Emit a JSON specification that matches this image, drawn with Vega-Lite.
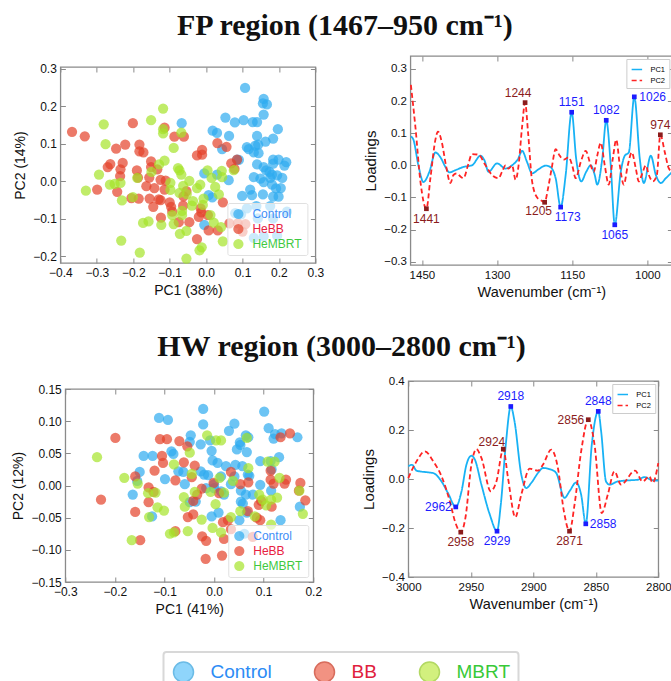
{
  "$schema": "https://vega.github.io/schema/vega-lite/v6.json",
  "background": "white",
  "padding": {"left": 11, "right": 0, "top": 10, "bottom": 0},
  "config": {
    "font": "Liberation Sans",
    "view": {"stroke": "#8a8a8a", "strokeWidth": 1.3},
    "axis": {"domain": false, "grid": false, "ticks": true, "tickSize": -5, "tickColor": "#8a8a8a", "labelFontSize": 12, "titleFontSize": 14, "titleFontWeight": "normal", "labelColor": "#111", "titleColor": "#111", "labelPadding": 9, "titlePadding": 5, "labelFlush": false, "labelOverlap": false},
    "title": {"font": "Liberation Serif", "fontSize": 30, "fontWeight": "bold", "anchor": "middle", "color": "#111", "offset": 12},
    "legend": {"labelOverlap": false}
  },
  "datasets": {
    "fp_scores": [
      {"pc1": 0.107, "pc2": 0.249, "group": "Control"}, {"pc1": 0.158, "pc2": 0.220, "group": "Control"}, {"pc1": 0.156, "pc2": 0.208, "group": "Control"}, {"pc1": 0.167, "pc2": 0.205, "group": "Control"}, {"pc1": 0.158, "pc2": 0.178, "group": "Control"}, {"pc1": 0.053, "pc2": 0.170, "group": "Control"}, {"pc1": 0.079, "pc2": 0.157, "group": "Control"}, {"pc1": 0.103, "pc2": 0.163, "group": "Control"}, {"pc1": 0.128, "pc2": 0.158, "group": "Control"}, {"pc1": 0.140, "pc2": 0.158, "group": "Control"}, {"pc1": 0.197, "pc2": 0.139, "group": "Control"}, {"pc1": -0.067, "pc2": 0.155, "group": "Control"}, {"pc1": 0.018, "pc2": 0.135, "group": "Control"}, {"pc1": 0.030, "pc2": 0.129, "group": "Control"}, {"pc1": 0.063, "pc2": 0.121, "group": "Control"}, {"pc1": 0.044, "pc2": 0.086, "group": "Control"}, {"pc1": 0.140, "pc2": 0.121, "group": "Control"}, {"pc1": 0.184, "pc2": 0.114, "group": "Control"}, {"pc1": 0.163, "pc2": 0.106, "group": "Control"}, {"pc1": 0.112, "pc2": 0.091, "group": "Control"}, {"pc1": 0.117, "pc2": 0.086, "group": "Control"}, {"pc1": 0.135, "pc2": 0.095, "group": "Control"}, {"pc1": 0.143, "pc2": 0.098, "group": "Control"}, {"pc1": 0.131, "pc2": 0.077, "group": "Control"}, {"pc1": 0.144, "pc2": 0.075, "group": "Control"}, {"pc1": 0.184, "pc2": 0.058, "group": "Control"}, {"pc1": 0.199, "pc2": 0.058, "group": "Control"}, {"pc1": 0.220, "pc2": 0.051, "group": "Control"}, {"pc1": 0.215, "pc2": 0.042, "group": "Control"}, {"pc1": 0.184, "pc2": 0.047, "group": "Control"}, {"pc1": 0.085, "pc2": 0.058, "group": "Control"}, {"pc1": 0.140, "pc2": 0.045, "group": "Control"}, {"pc1": 0.158, "pc2": 0.038, "group": "Control"}, {"pc1": 0.165, "pc2": 0.029, "group": "Control"}, {"pc1": 0.174, "pc2": 0.025, "group": "Control"}, {"pc1": 0.181, "pc2": 0.018, "group": "Control"}, {"pc1": 0.195, "pc2": 0.016, "group": "Control"}, {"pc1": 0.209, "pc2": 0.009, "group": "Control"}, {"pc1": 0.176, "pc2": 0.009, "group": "Control"}, {"pc1": 0.149, "pc2": 0.007, "group": "Control"}, {"pc1": 0.131, "pc2": 0.011, "group": "Control"}, {"pc1": 0.158, "pc2": -0.002, "group": "Control"}, {"pc1": 0.181, "pc2": -0.009, "group": "Control"}, {"pc1": 0.205, "pc2": -0.018, "group": "Control"}, {"pc1": 0.192, "pc2": -0.019, "group": "Control"}, {"pc1": 0.121, "pc2": -0.022, "group": "Control"}, {"pc1": 0.099, "pc2": -0.039, "group": "Control"}, {"pc1": 0.126, "pc2": -0.037, "group": "Control"}, {"pc1": 0.156, "pc2": -0.035, "group": "Control"}, {"pc1": 0.184, "pc2": -0.041, "group": "Control"}, {"pc1": 0.199, "pc2": -0.041, "group": "Control"}, {"pc1": 0.176, "pc2": -0.066, "group": "Control"}, {"pc1": 0.138, "pc2": -0.066, "group": "Control"}, {"pc1": -0.005, "pc2": 0.021, "group": "Control"}, {"pc1": 0.030, "pc2": 0.018, "group": "Control"}, {"pc1": 0.062, "pc2": 0.003, "group": "Control"}, {"pc1": 0.007, "pc2": -0.037, "group": "Control"}, {"pc1": 0.017, "pc2": -0.043, "group": "Control"}, {"pc1": -0.005, "pc2": -0.116, "group": "Control"}, {"pc1": 0.080, "pc2": -0.085, "group": "Control"}, {"pc1": 0.096, "pc2": -0.088, "group": "Control"}, {"pc1": 0.112, "pc2": -0.072, "group": "Control"}, {"pc1": 0.222, "pc2": -0.081, "group": "Control"}, {"pc1": 0.184, "pc2": -0.099, "group": "Control"}, {"pc1": 0.142, "pc2": -0.099, "group": "Control"}, {"pc1": 0.195, "pc2": -0.145, "group": "Control"}, {"pc1": 0.158, "pc2": -0.147, "group": "Control"}, {"pc1": 0.131, "pc2": -0.151, "group": "Control"}, {"pc1": 0.090, "pc2": 0.057, "group": "Control"},
      {"pc1": -0.368, "pc2": 0.132, "group": "HeBB"}, {"pc1": -0.333, "pc2": 0.120, "group": "HeBB"}, {"pc1": -0.201, "pc2": 0.155, "group": "HeBB"}, {"pc1": -0.114, "pc2": 0.143, "group": "HeBB"}, {"pc1": -0.087, "pc2": 0.119, "group": "HeBB"}, {"pc1": -0.222, "pc2": 0.098, "group": "HeBB"}, {"pc1": -0.247, "pc2": 0.087, "group": "HeBB"}, {"pc1": -0.183, "pc2": 0.098, "group": "HeBB"}, {"pc1": -0.183, "pc2": 0.080, "group": "HeBB"}, {"pc1": -0.172, "pc2": 0.077, "group": "HeBB"}, {"pc1": -0.229, "pc2": 0.049, "group": "HeBB"}, {"pc1": -0.270, "pc2": 0.038, "group": "HeBB"}, {"pc1": -0.263, "pc2": 0.046, "group": "HeBB"}, {"pc1": -0.190, "pc2": 0.029, "group": "HeBB"}, {"pc1": -0.235, "pc2": 0.032, "group": "HeBB"}, {"pc1": -0.151, "pc2": 0.053, "group": "HeBB"}, {"pc1": -0.151, "pc2": 0.038, "group": "HeBB"}, {"pc1": -0.134, "pc2": 0.032, "group": "HeBB"}, {"pc1": -0.156, "pc2": 0.010, "group": "HeBB"}, {"pc1": -0.187, "pc2": 0.010, "group": "HeBB"}, {"pc1": -0.236, "pc2": 0.014, "group": "HeBB"}, {"pc1": -0.299, "pc2": -0.022, "group": "HeBB"}, {"pc1": -0.244, "pc2": -0.028, "group": "HeBB"}, {"pc1": -0.164, "pc2": -0.013, "group": "HeBB"}, {"pc1": -0.142, "pc2": -0.018, "group": "HeBB"}, {"pc1": -0.125, "pc2": 0.004, "group": "HeBB"}, {"pc1": -0.111, "pc2": 0.002, "group": "HeBB"}, {"pc1": -0.114, "pc2": -0.022, "group": "HeBB"}, {"pc1": -0.185, "pc2": -0.046, "group": "HeBB"}, {"pc1": -0.145, "pc2": -0.068, "group": "HeBB"}, {"pc1": -0.155, "pc2": -0.046, "group": "HeBB"}, {"pc1": -0.130, "pc2": -0.048, "group": "HeBB"}, {"pc1": -0.100, "pc2": -0.056, "group": "HeBB"}, {"pc1": -0.096, "pc2": -0.068, "group": "HeBB"}, {"pc1": -0.093, "pc2": -0.081, "group": "HeBB"}, {"pc1": -0.124, "pc2": -0.097, "group": "HeBB"}, {"pc1": -0.075, "pc2": -0.109, "group": "HeBB"}, {"pc1": -0.046, "pc2": -0.109, "group": "HeBB"}, {"pc1": -0.025, "pc2": -0.154, "group": "HeBB"}, {"pc1": 0.007, "pc2": -0.131, "group": "HeBB"}, {"pc1": 0.032, "pc2": -0.131, "group": "HeBB"}, {"pc1": -0.013, "pc2": -0.083, "group": "HeBB"}, {"pc1": -0.015, "pc2": -0.072, "group": "HeBB"}, {"pc1": 0.046, "pc2": -0.056, "group": "HeBB"}, {"pc1": -0.062, "pc2": -0.040, "group": "HeBB"}, {"pc1": -0.054, "pc2": -0.026, "group": "HeBB"}, {"pc1": -0.063, "pc2": -0.065, "group": "HeBB"}, {"pc1": 0.031, "pc2": 0.102, "group": "HeBB"}, {"pc1": 0.056, "pc2": 0.092, "group": "HeBB"}, {"pc1": -0.011, "pc2": 0.084, "group": "HeBB"}, {"pc1": -0.025, "pc2": 0.069, "group": "HeBB"}, {"pc1": -0.011, "pc2": 0.071, "group": "HeBB"}, {"pc1": -0.061, "pc2": 0.119, "group": "HeBB"}, {"pc1": 0.069, "pc2": 0.048, "group": "HeBB"}, {"pc1": 0.078, "pc2": 0.033, "group": "HeBB"}, {"pc1": 0.085, "pc2": 0.058, "group": "HeBB"}, {"pc1": 0.064, "pc2": -0.112, "group": "HeBB"}, {"pc1": 0.087, "pc2": -0.112, "group": "HeBB"}, {"pc1": 0.108, "pc2": -0.114, "group": "HeBB"}, {"pc1": 0.100, "pc2": -0.134, "group": "HeBB"}, {"pc1": -0.205, "pc2": -0.045, "group": "HeBB"}, {"pc1": -0.125, "pc2": -0.050, "group": "HeBB"}, {"pc1": -0.020, "pc2": -0.095, "group": "HeBB"}, {"pc1": 0.005, "pc2": -0.090, "group": "HeBB"},
      {"pc1": -0.281, "pc2": 0.152, "group": "HeMBRT"}, {"pc1": -0.118, "pc2": 0.194, "group": "HeMBRT"}, {"pc1": -0.151, "pc2": 0.163, "group": "HeMBRT"}, {"pc1": -0.118, "pc2": 0.139, "group": "HeMBRT"}, {"pc1": -0.118, "pc2": 0.128, "group": "HeMBRT"}, {"pc1": -0.068, "pc2": 0.130, "group": "HeMBRT"}, {"pc1": -0.276, "pc2": 0.099, "group": "HeMBRT"}, {"pc1": -0.089, "pc2": 0.089, "group": "HeMBRT"}, {"pc1": -0.294, "pc2": 0.018, "group": "HeMBRT"}, {"pc1": -0.264, "pc2": -0.009, "group": "HeMBRT"}, {"pc1": -0.251, "pc2": -0.007, "group": "HeMBRT"}, {"pc1": -0.235, "pc2": -0.004, "group": "HeMBRT"}, {"pc1": -0.330, "pc2": -0.025, "group": "HeMBRT"}, {"pc1": -0.231, "pc2": -0.051, "group": "HeMBRT"}, {"pc1": -0.201, "pc2": -0.042, "group": "HeMBRT"}, {"pc1": -0.189, "pc2": 0.009, "group": "HeMBRT"}, {"pc1": -0.129, "pc2": 0.045, "group": "HeMBRT"}, {"pc1": -0.114, "pc2": 0.055, "group": "HeMBRT"}, {"pc1": -0.077, "pc2": 0.035, "group": "HeMBRT"}, {"pc1": -0.073, "pc2": 0.029, "group": "HeMBRT"}, {"pc1": -0.068, "pc2": 0.018, "group": "HeMBRT"}, {"pc1": -0.098, "pc2": -0.004, "group": "HeMBRT"}, {"pc1": -0.098, "pc2": -0.023, "group": "HeMBRT"}, {"pc1": -0.046, "pc2": 0.001, "group": "HeMBRT"}, {"pc1": -0.063, "pc2": -0.012, "group": "HeMBRT"}, {"pc1": -0.073, "pc2": -0.031, "group": "HeMBRT"}, {"pc1": -0.053, "pc2": -0.034, "group": "HeMBRT"}, {"pc1": -0.025, "pc2": -0.018, "group": "HeMBRT"}, {"pc1": -0.016, "pc2": -0.009, "group": "HeMBRT"}, {"pc1": 0.004, "pc2": 0.029, "group": "HeMBRT"}, {"pc1": 0.043, "pc2": 0.028, "group": "HeMBRT"}, {"pc1": 0.076, "pc2": 0.030, "group": "HeMBRT"}, {"pc1": 0.015, "pc2": 0.009, "group": "HeMBRT"}, {"pc1": 0.044, "pc2": 0.011, "group": "HeMBRT"}, {"pc1": 0.025, "pc2": -0.015, "group": "HeMBRT"}, {"pc1": 0.035, "pc2": -0.035, "group": "HeMBRT"}, {"pc1": -0.009, "pc2": -0.063, "group": "HeMBRT"}, {"pc1": -0.036, "pc2": -0.053, "group": "HeMBRT"}, {"pc1": -0.039, "pc2": -0.065, "group": "HeMBRT"}, {"pc1": -0.066, "pc2": -0.079, "group": "HeMBRT"}, {"pc1": -0.066, "pc2": -0.090, "group": "HeMBRT"}, {"pc1": -0.093, "pc2": -0.090, "group": "HeMBRT"}, {"pc1": -0.089, "pc2": -0.114, "group": "HeMBRT"}, {"pc1": -0.123, "pc2": -0.116, "group": "HeMBRT"}, {"pc1": -0.158, "pc2": -0.107, "group": "HeMBRT"}, {"pc1": -0.173, "pc2": -0.111, "group": "HeMBRT"}, {"pc1": -0.233, "pc2": -0.158, "group": "HeMBRT"}, {"pc1": -0.182, "pc2": -0.190, "group": "HeMBRT"}, {"pc1": -0.072, "pc2": -0.140, "group": "HeMBRT"}, {"pc1": -0.054, "pc2": -0.132, "group": "HeMBRT"}, {"pc1": -0.054, "pc2": -0.206, "group": "HeMBRT"}, {"pc1": -0.018, "pc2": -0.184, "group": "HeMBRT"}, {"pc1": -0.012, "pc2": -0.176, "group": "HeMBRT"}, {"pc1": 0.012, "pc2": -0.090, "group": "HeMBRT"}, {"pc1": 0.021, "pc2": -0.110, "group": "HeMBRT"}, {"pc1": 0.041, "pc2": -0.122, "group": "HeMBRT"}, {"pc1": 0.046, "pc2": -0.160, "group": "HeMBRT"}, {"pc1": -0.007, "pc2": -0.046, "group": "HeMBRT"}, {"pc1": -0.150, "pc2": 0.025, "group": "HeMBRT"}
    ],
    "hw_scores": [
      {"pc1": -0.111, "pc2": 0.105, "group": "Control"}, {"pc1": -0.093, "pc2": 0.102, "group": "Control"}, {"pc1": -0.022, "pc2": 0.119, "group": "Control"}, {"pc1": -0.022, "pc2": 0.095, "group": "Control"}, {"pc1": 0.101, "pc2": 0.115, "group": "Control"}, {"pc1": 0.041, "pc2": 0.096, "group": "Control"}, {"pc1": 0.030, "pc2": 0.085, "group": "Control"}, {"pc1": 0.110, "pc2": 0.089, "group": "Control"}, {"pc1": 0.123, "pc2": 0.080, "group": "Control"}, {"pc1": 0.136, "pc2": 0.081, "group": "Control"}, {"pc1": 0.120, "pc2": 0.073, "group": "Control"}, {"pc1": 0.168, "pc2": 0.075, "group": "Control"}, {"pc1": 0.064, "pc2": 0.078, "group": "Control"}, {"pc1": 0.069, "pc2": 0.075, "group": "Control"}, {"pc1": 0.052, "pc2": 0.067, "group": "Control"}, {"pc1": 0.053, "pc2": 0.063, "group": "Control"}, {"pc1": 0.066, "pc2": 0.052, "group": "Control"}, {"pc1": 0.046, "pc2": 0.056, "group": "Control"}, {"pc1": -0.047, "pc2": 0.078, "group": "Control"}, {"pc1": -0.049, "pc2": 0.068, "group": "Control"}, {"pc1": -0.027, "pc2": 0.064, "group": "Control"}, {"pc1": -0.008, "pc2": 0.070, "group": "Control"}, {"pc1": -0.005, "pc2": 0.054, "group": "Control"}, {"pc1": -0.003, "pc2": 0.039, "group": "Control"}, {"pc1": 0.007, "pc2": 0.035, "group": "Control"}, {"pc1": -0.086, "pc2": 0.053, "group": "Control"}, {"pc1": -0.082, "pc2": 0.049, "group": "Control"}, {"pc1": -0.142, "pc2": 0.046, "group": "Control"}, {"pc1": -0.124, "pc2": 0.046, "group": "Control"}, {"pc1": -0.150, "pc2": 0.021, "group": "Control"}, {"pc1": -0.155, "pc2": 0.007, "group": "Control"}, {"pc1": -0.164, "pc2": -0.014, "group": "Control"}, {"pc1": -0.099, "pc2": 0.010, "group": "Control"}, {"pc1": -0.072, "pc2": 0.022, "group": "Control"}, {"pc1": -0.062, "pc2": 0.021, "group": "Control"}, {"pc1": -0.059, "pc2": 0.002, "group": "Control"}, {"pc1": -0.027, "pc2": 0.022, "group": "Control"}, {"pc1": -0.020, "pc2": 0.017, "group": "Control"}, {"pc1": -0.012, "pc2": 0.016, "group": "Control"}, {"pc1": -0.016, "pc2": -0.004, "group": "Control"}, {"pc1": 0.000, "pc2": 0.002, "group": "Control"}, {"pc1": 0.000, "pc2": -0.004, "group": "Control"}, {"pc1": 0.014, "pc2": 0.014, "group": "Control"}, {"pc1": 0.024, "pc2": 0.030, "group": "Control"}, {"pc1": 0.043, "pc2": 0.032, "group": "Control"}, {"pc1": 0.057, "pc2": 0.030, "group": "Control"}, {"pc1": 0.068, "pc2": 0.017, "group": "Control"}, {"pc1": 0.071, "pc2": 0.015, "group": "Control"}, {"pc1": 0.041, "pc2": 0.014, "group": "Control"}, {"pc1": 0.034, "pc2": 0.002, "group": "Control"}, {"pc1": 0.014, "pc2": -0.009, "group": "Control"}, {"pc1": 0.020, "pc2": -0.014, "group": "Control"}, {"pc1": 0.054, "pc2": -0.008, "group": "Control"}, {"pc1": 0.064, "pc2": -0.014, "group": "Control"}, {"pc1": 0.078, "pc2": -0.014, "group": "Control"}, {"pc1": 0.093, "pc2": 0.001, "group": "Control"}, {"pc1": 0.093, "pc2": 0.038, "group": "Control"}, {"pc1": 0.114, "pc2": 0.038, "group": "Control"}, {"pc1": 0.116, "pc2": 0.025, "group": "Control"}, {"pc1": 0.131, "pc2": 0.044, "group": "Control"}, {"pc1": 0.115, "pc2": -0.008, "group": "Control"}, {"pc1": 0.134, "pc2": -0.054, "group": "Control"}, {"pc1": 0.173, "pc2": -0.033, "group": "Control"}, {"pc1": 0.054, "pc2": -0.025, "group": "Control"}, {"pc1": 0.058, "pc2": -0.028, "group": "Control"}, {"pc1": 0.066, "pc2": -0.042, "group": "Control"}, {"pc1": 0.051, "pc2": -0.054, "group": "Control"}, {"pc1": -0.037, "pc2": -0.025, "group": "Control"}, {"pc1": -0.049, "pc2": -0.026, "group": "Control"}, {"pc1": -0.005, "pc2": -0.048, "group": "Control"}, {"pc1": 0.009, "pc2": -0.042, "group": "Control"}, {"pc1": -0.125, "pc2": -0.048, "group": "Control"}, {"pc1": 0.061, "pc2": -0.075, "group": "Control"},
      {"pc1": -0.199, "pc2": 0.074, "group": "HeBB"}, {"pc1": -0.228, "pc2": -0.022, "group": "HeBB"}, {"pc1": -0.109, "pc2": 0.072, "group": "HeBB"}, {"pc1": -0.095, "pc2": 0.072, "group": "HeBB"}, {"pc1": -0.105, "pc2": 0.046, "group": "HeBB"}, {"pc1": -0.103, "pc2": 0.035, "group": "HeBB"}, {"pc1": -0.070, "pc2": 0.069, "group": "HeBB"}, {"pc1": -0.054, "pc2": 0.061, "group": "HeBB"}, {"pc1": -0.039, "pc2": 0.031, "group": "HeBB"}, {"pc1": -0.061, "pc2": 0.036, "group": "HeBB"}, {"pc1": -0.078, "pc2": 0.008, "group": "HeBB"}, {"pc1": -0.120, "pc2": 0.023, "group": "HeBB"}, {"pc1": -0.159, "pc2": 0.014, "group": "HeBB"}, {"pc1": -0.132, "pc2": -0.003, "group": "HeBB"}, {"pc1": -0.122, "pc2": -0.010, "group": "HeBB"}, {"pc1": -0.132, "pc2": -0.026, "group": "HeBB"}, {"pc1": -0.159, "pc2": -0.041, "group": "HeBB"}, {"pc1": -0.149, "pc2": -0.085, "group": "HeBB"}, {"pc1": -0.078, "pc2": -0.071, "group": "HeBB"}, {"pc1": -0.053, "pc2": -0.049, "group": "HeBB"}, {"pc1": -0.042, "pc2": -0.045, "group": "HeBB"}, {"pc1": -0.042, "pc2": -0.024, "group": "HeBB"}, {"pc1": -0.045, "pc2": 0.013, "group": "HeBB"}, {"pc1": -0.025, "pc2": -0.005, "group": "HeBB"}, {"pc1": -0.034, "pc2": -0.014, "group": "HeBB"}, {"pc1": -0.024, "pc2": -0.079, "group": "HeBB"}, {"pc1": -0.016, "pc2": -0.086, "group": "HeBB"}, {"pc1": -0.017, "pc2": -0.114, "group": "HeBB"}, {"pc1": 0.016, "pc2": -0.109, "group": "HeBB"}, {"pc1": 0.020, "pc2": -0.083, "group": "HeBB"}, {"pc1": 0.018, "pc2": -0.057, "group": "HeBB"}, {"pc1": 0.028, "pc2": -0.054, "group": "HeBB"}, {"pc1": 0.034, "pc2": -0.068, "group": "HeBB"}, {"pc1": 0.034, "pc2": 0.021, "group": "HeBB"}, {"pc1": -0.001, "pc2": 0.004, "group": "HeBB"}, {"pc1": 0.053, "pc2": 0.002, "group": "HeBB"}, {"pc1": 0.069, "pc2": 0.005, "group": "HeBB"}, {"pc1": 0.068, "pc2": -0.040, "group": "HeBB"}, {"pc1": 0.086, "pc2": -0.050, "group": "HeBB"}, {"pc1": 0.093, "pc2": -0.054, "group": "HeBB"}, {"pc1": 0.095, "pc2": -0.024, "group": "HeBB"}, {"pc1": 0.114, "pc2": 0.023, "group": "HeBB"}, {"pc1": 0.120, "pc2": 0.003, "group": "HeBB"}, {"pc1": 0.114, "pc2": 0.009, "group": "HeBB"}, {"pc1": 0.145, "pc2": 0.009, "group": "HeBB"}, {"pc1": 0.142, "pc2": 0.003, "group": "HeBB"}, {"pc1": 0.134, "pc2": 0.075, "group": "HeBB"}, {"pc1": 0.153, "pc2": 0.081, "group": "HeBB"}, {"pc1": 0.174, "pc2": 0.004, "group": "HeBB"}, {"pc1": 0.184, "pc2": -0.023, "group": "HeBB"}, {"pc1": 0.171, "pc2": -0.008, "group": "HeBB"}, {"pc1": 0.116, "pc2": -0.033, "group": "HeBB"}, {"pc1": 0.078, "pc2": -0.080, "group": "HeBB"}, {"pc1": 0.010, "pc2": -0.012, "group": "HeBB"}, {"pc1": 0.090, "pc2": -0.030, "group": "HeBB"},
      {"pc1": -0.236, "pc2": 0.044, "group": "HeMBRT"}, {"pc1": -0.181, "pc2": 0.012, "group": "HeMBRT"}, {"pc1": -0.154, "pc2": 0.003, "group": "HeMBRT"}, {"pc1": -0.133, "pc2": -0.012, "group": "HeMBRT"}, {"pc1": -0.118, "pc2": -0.011, "group": "HeMBRT"}, {"pc1": -0.114, "pc2": -0.034, "group": "HeMBRT"}, {"pc1": -0.101, "pc2": -0.039, "group": "HeMBRT"}, {"pc1": -0.131, "pc2": -0.049, "group": "HeMBRT"}, {"pc1": -0.166, "pc2": -0.085, "group": "HeMBRT"}, {"pc1": -0.089, "pc2": -0.075, "group": "HeMBRT"}, {"pc1": -0.081, "pc2": -0.073, "group": "HeMBRT"}, {"pc1": -0.081, "pc2": 0.033, "group": "HeMBRT"}, {"pc1": -0.049, "pc2": 0.051, "group": "HeMBRT"}, {"pc1": -0.045, "pc2": 0.018, "group": "HeMBRT"}, {"pc1": -0.061, "pc2": -0.018, "group": "HeMBRT"}, {"pc1": -0.059, "pc2": -0.033, "group": "HeMBRT"}, {"pc1": -0.053, "pc2": -0.071, "group": "HeMBRT"}, {"pc1": -0.039, "pc2": -0.010, "group": "HeMBRT"}, {"pc1": -0.025, "pc2": -0.053, "group": "HeMBRT"}, {"pc1": -0.014, "pc2": 0.078, "group": "HeMBRT"}, {"pc1": 0.004, "pc2": 0.070, "group": "HeMBRT"}, {"pc1": 0.014, "pc2": 0.070, "group": "HeMBRT"}, {"pc1": 0.066, "pc2": 0.074, "group": "HeMBRT"}, {"pc1": -0.007, "pc2": -0.010, "group": "HeMBRT"}, {"pc1": 0.011, "pc2": 0.012, "group": "HeMBRT"}, {"pc1": 0.003, "pc2": -0.029, "group": "HeMBRT"}, {"pc1": -0.003, "pc2": -0.066, "group": "HeMBRT"}, {"pc1": 0.014, "pc2": -0.073, "group": "HeMBRT"}, {"pc1": 0.034, "pc2": -0.049, "group": "HeMBRT"}, {"pc1": 0.053, "pc2": -0.040, "group": "HeMBRT"}, {"pc1": 0.038, "pc2": 0.007, "group": "HeMBRT"}, {"pc1": 0.069, "pc2": 0.027, "group": "HeMBRT"}, {"pc1": 0.082, "pc2": -0.048, "group": "HeMBRT"}, {"pc1": 0.091, "pc2": -0.014, "group": "HeMBRT"}, {"pc1": 0.098, "pc2": -0.022, "group": "HeMBRT"}, {"pc1": 0.105, "pc2": -0.031, "group": "HeMBRT"}, {"pc1": 0.122, "pc2": 0.037, "group": "HeMBRT"}, {"pc1": 0.115, "pc2": -0.022, "group": "HeMBRT"}, {"pc1": 0.127, "pc2": -0.019, "group": "HeMBRT"}, {"pc1": 0.132, "pc2": 0.012, "group": "HeMBRT"}, {"pc1": 0.172, "pc2": -0.008, "group": "HeMBRT"}, {"pc1": 0.179, "pc2": -0.044, "group": "HeMBRT"}, {"pc1": 0.115, "pc2": -0.061, "group": "HeMBRT"}, {"pc1": 0.108, "pc2": 0.037, "group": "HeMBRT"}, {"pc1": 0.020, "pc2": -0.011, "group": "HeMBRT"}
    ],
    "fp_load": [
      {"wn": 1472, "value": 0.09, "series": "PC1"}, {"wn": 1467, "value": 0.08, "series": "PC1"}, {"wn": 1457, "value": 0.0, "series": "PC1"}, {"wn": 1447, "value": -0.052, "series": "PC1"}, {"wn": 1435, "value": -0.02, "series": "PC1"}, {"wn": 1423, "value": 0.04, "series": "PC1"}, {"wn": 1413, "value": 0.025, "series": "PC1"}, {"wn": 1403, "value": -0.005, "series": "PC1"}, {"wn": 1395, "value": -0.022, "series": "PC1"}, {"wn": 1383, "value": -0.015, "series": "PC1"}, {"wn": 1367, "value": -0.005, "series": "PC1"}, {"wn": 1350, "value": 0.0, "series": "PC1"}, {"wn": 1333, "value": 0.03, "series": "PC1"}, {"wn": 1325, "value": 0.015, "series": "PC1"}, {"wn": 1317, "value": -0.02, "series": "PC1"}, {"wn": 1300, "value": 0.006, "series": "PC1"}, {"wn": 1283, "value": -0.01, "series": "PC1"}, {"wn": 1270, "value": 0.0, "series": "PC1"}, {"wn": 1258, "value": 0.02, "series": "PC1"}, {"wn": 1250, "value": 0.045, "series": "PC1"}, {"wn": 1240, "value": 0.01, "series": "PC1"}, {"wn": 1230, "value": -0.025, "series": "PC1"}, {"wn": 1217, "value": -0.012, "series": "PC1"}, {"wn": 1203, "value": -0.001, "series": "PC1"}, {"wn": 1193, "value": -0.006, "series": "PC1"}, {"wn": 1183, "value": -0.04, "series": "PC1"}, {"wn": 1173, "value": -0.13, "series": "PC1"}, {"wn": 1163, "value": -0.03, "series": "PC1"}, {"wn": 1151, "value": 0.165, "series": "PC1"}, {"wn": 1142, "value": 0.02, "series": "PC1"}, {"wn": 1132, "value": -0.05, "series": "PC1"}, {"wn": 1122, "value": -0.02, "series": "PC1"}, {"wn": 1113, "value": 0.0, "series": "PC1"}, {"wn": 1105, "value": -0.03, "series": "PC1"}, {"wn": 1100, "value": -0.06, "series": "PC1"}, {"wn": 1090, "value": 0.02, "series": "PC1"}, {"wn": 1082, "value": 0.14, "series": "PC1"}, {"wn": 1073, "value": 0.0, "series": "PC1"}, {"wn": 1065, "value": -0.185, "series": "PC1"}, {"wn": 1053, "value": -0.02, "series": "PC1"}, {"wn": 1045, "value": 0.03, "series": "PC1"}, {"wn": 1037, "value": 0.04, "series": "PC1"}, {"wn": 1026, "value": 0.213, "series": "PC1"}, {"wn": 1015, "value": 0.02, "series": "PC1"}, {"wn": 1007, "value": -0.055, "series": "PC1"}, {"wn": 993, "value": 0.03, "series": "PC1"}, {"wn": 983, "value": -0.03, "series": "PC1"}, {"wn": 973, "value": -0.055, "series": "PC1"}, {"wn": 963, "value": -0.04, "series": "PC1"}, {"wn": 950, "value": -0.02, "series": "PC1"},
      {"wn": 1472, "value": 0.25, "series": "PC2"}, {"wn": 1463, "value": 0.12, "series": "PC2"}, {"wn": 1453, "value": -0.05, "series": "PC2"}, {"wn": 1441, "value": -0.135, "series": "PC2"}, {"wn": 1433, "value": -0.04, "series": "PC2"}, {"wn": 1423, "value": 0.08, "series": "PC2"}, {"wn": 1418, "value": 0.105, "series": "PC2"}, {"wn": 1410, "value": 0.07, "series": "PC2"}, {"wn": 1402, "value": 0.0, "series": "PC2"}, {"wn": 1393, "value": -0.055, "series": "PC2"}, {"wn": 1387, "value": -0.03, "series": "PC2"}, {"wn": 1380, "value": -0.025, "series": "PC2"}, {"wn": 1373, "value": -0.035, "series": "PC2"}, {"wn": 1367, "value": -0.04, "series": "PC2"}, {"wn": 1358, "value": 0.0, "series": "PC2"}, {"wn": 1350, "value": 0.035, "series": "PC2"}, {"wn": 1337, "value": 0.033, "series": "PC2"}, {"wn": 1323, "value": 0.0, "series": "PC2"}, {"wn": 1310, "value": -0.03, "series": "PC2"}, {"wn": 1297, "value": -0.04, "series": "PC2"}, {"wn": 1290, "value": -0.02, "series": "PC2"}, {"wn": 1283, "value": 0.0, "series": "PC2"}, {"wn": 1277, "value": -0.01, "series": "PC2"}, {"wn": 1270, "value": 0.0, "series": "PC2"}, {"wn": 1263, "value": -0.045, "series": "PC2"}, {"wn": 1257, "value": 0.0, "series": "PC2"}, {"wn": 1250, "value": 0.12, "series": "PC2"}, {"wn": 1244, "value": 0.195, "series": "PC2"}, {"wn": 1238, "value": 0.1, "series": "PC2"}, {"wn": 1230, "value": -0.05, "series": "PC2"}, {"wn": 1220, "value": -0.1, "series": "PC2"}, {"wn": 1211, "value": -0.11, "series": "PC2"}, {"wn": 1205, "value": -0.115, "series": "PC2"}, {"wn": 1198, "value": -0.07, "series": "PC2"}, {"wn": 1191, "value": -0.01, "series": "PC2"}, {"wn": 1183, "value": 0.05, "series": "PC2"}, {"wn": 1175, "value": 0.03, "series": "PC2"}, {"wn": 1167, "value": 0.018, "series": "PC2"}, {"wn": 1157, "value": 0.025, "series": "PC2"}, {"wn": 1150, "value": 0.0, "series": "PC2"}, {"wn": 1143, "value": -0.04, "series": "PC2"}, {"wn": 1133, "value": 0.01, "series": "PC2"}, {"wn": 1123, "value": 0.045, "series": "PC2"}, {"wn": 1113, "value": 0.0, "series": "PC2"}, {"wn": 1107, "value": -0.02, "series": "PC2"}, {"wn": 1100, "value": 0.03, "series": "PC2"}, {"wn": 1093, "value": 0.07, "series": "PC2"}, {"wn": 1085, "value": 0.0, "series": "PC2"}, {"wn": 1077, "value": -0.06, "series": "PC2"}, {"wn": 1069, "value": 0.02, "series": "PC2"}, {"wn": 1062, "value": 0.08, "series": "PC2"}, {"wn": 1055, "value": 0.0, "series": "PC2"}, {"wn": 1047, "value": -0.06, "series": "PC2"}, {"wn": 1039, "value": 0.0, "series": "PC2"}, {"wn": 1031, "value": 0.04, "series": "PC2"}, {"wn": 1023, "value": -0.01, "series": "PC2"}, {"wn": 1017, "value": -0.05, "series": "PC2"}, {"wn": 1010, "value": -0.025, "series": "PC2"}, {"wn": 1003, "value": 0.0, "series": "PC2"}, {"wn": 997, "value": -0.03, "series": "PC2"}, {"wn": 989, "value": -0.05, "series": "PC2"}, {"wn": 981, "value": -0.03, "series": "PC2"}, {"wn": 974, "value": 0.095, "series": "PC2"}, {"wn": 965, "value": 0.04, "series": "PC2"}, {"wn": 957, "value": -0.01, "series": "PC2"}, {"wn": 950, "value": -0.02, "series": "PC2"}
    ],
    "fp_peaks": [
      {"wn": 1173, "value": -0.13, "series": "PC1", "label": "1173"}, {"wn": 1151, "value": 0.165, "series": "PC1", "label": "1151"}, {"wn": 1082, "value": 0.14, "series": "PC1", "label": "1082"}, {"wn": 1065, "value": -0.185, "series": "PC1", "label": "1065"}, {"wn": 1026, "value": 0.213, "series": "PC1", "label": "1026"},
      {"wn": 1441, "value": -0.135, "series": "PC2", "label": "1441"}, {"wn": 1244, "value": 0.195, "series": "PC2", "label": "1244"}, {"wn": 1205, "value": -0.115, "series": "PC2", "label": "1205"}, {"wn": 974, "value": 0.095, "series": "PC2", "label": "974"}
    ],
    "hw_load": [
      {"wn": 3000, "value": 0.052, "series": "PC1"}, {"wn": 2997, "value": 0.058, "series": "PC1"}, {"wn": 2993.4, "value": 0.034, "series": "PC1"}, {"wn": 2984, "value": 0.027, "series": "PC1"}, {"wn": 2980, "value": 0.024, "series": "PC1"}, {"wn": 2973.4, "value": -0.01, "series": "PC1"}, {"wn": 2968, "value": -0.06, "series": "PC1"}, {"wn": 2962, "value": -0.114, "series": "PC1"}, {"wn": 2957.4, "value": -0.05, "series": "PC1"}, {"wn": 2953.5, "value": 0.058, "series": "PC1"}, {"wn": 2949.5, "value": 0.095, "series": "PC1"}, {"wn": 2946.8, "value": 0.08, "series": "PC1"}, {"wn": 2941.5, "value": -0.023, "series": "PC1"}, {"wn": 2934.8, "value": -0.145, "series": "PC1"}, {"wn": 2929, "value": -0.213, "series": "PC1"}, {"wn": 2926, "value": -0.105, "series": "PC1"}, {"wn": 2922, "value": 0.14, "series": "PC1"}, {"wn": 2918, "value": 0.296, "series": "PC1"}, {"wn": 2915, "value": 0.235, "series": "PC1"}, {"wn": 2909.6, "value": 0.018, "series": "PC1"}, {"wn": 2905.6, "value": -0.037, "series": "PC1"}, {"wn": 2901.6, "value": -0.016, "series": "PC1"}, {"wn": 2896.3, "value": 0.024, "series": "PC1"}, {"wn": 2892.3, "value": 0.045, "series": "PC1"}, {"wn": 2885.6, "value": 0.038, "series": "PC1"}, {"wn": 2881.6, "value": 0.024, "series": "PC1"}, {"wn": 2875, "value": -0.077, "series": "PC1"}, {"wn": 2871, "value": -0.05, "series": "PC1"}, {"wn": 2865.7, "value": -0.014, "series": "PC1"}, {"wn": 2861.7, "value": -0.064, "series": "PC1"}, {"wn": 2858, "value": -0.183, "series": "PC1"}, {"wn": 2853.2, "value": 0.14, "series": "PC1"}, {"wn": 2848, "value": 0.276, "series": "PC1"}, {"wn": 2845.7, "value": 0.194, "series": "PC1"}, {"wn": 2841.8, "value": -0.01, "series": "PC1"}, {"wn": 2839, "value": -0.023, "series": "PC1"}, {"wn": 2832.4, "value": -0.01, "series": "PC1"}, {"wn": 2821.8, "value": -0.005, "series": "PC1"}, {"wn": 2816.5, "value": -0.003, "series": "PC1"}, {"wn": 2811, "value": 0.008, "series": "PC1"}, {"wn": 2805.9, "value": -0.003, "series": "PC1"}, {"wn": 2800, "value": -0.007, "series": "PC1"},
      {"wn": 3000, "value": 0.004, "series": "PC2"}, {"wn": 2993.4, "value": 0.072, "series": "PC2"}, {"wn": 2986.7, "value": 0.113, "series": "PC2"}, {"wn": 2980, "value": 0.072, "series": "PC2"}, {"wn": 2973.4, "value": 0.011, "series": "PC2"}, {"wn": 2966.8, "value": -0.09, "series": "PC2"}, {"wn": 2962.2, "value": -0.18, "series": "PC2"}, {"wn": 2958, "value": -0.217, "series": "PC2"}, {"wn": 2954.3, "value": -0.159, "series": "PC2"}, {"wn": 2949.5, "value": 0.058, "series": "PC2"}, {"wn": 2945.5, "value": 0.122, "series": "PC2"}, {"wn": 2941.5, "value": 0.086, "series": "PC2"}, {"wn": 2934, "value": -0.05, "series": "PC2"}, {"wn": 2929.5, "value": -0.01, "series": "PC2"}, {"wn": 2924, "value": 0.122, "series": "PC2"}, {"wn": 2920.2, "value": 0.004, "series": "PC2"}, {"wn": 2914.4, "value": -0.156, "series": "PC2"}, {"wn": 2909.6, "value": -0.064, "series": "PC2"}, {"wn": 2902.9, "value": 0.042, "series": "PC2"}, {"wn": 2896.3, "value": 0.034, "series": "PC2"}, {"wn": 2892.3, "value": 0.058, "series": "PC2"}, {"wn": 2885.6, "value": 0.12, "series": "PC2"}, {"wn": 2880.3, "value": 0.045, "series": "PC2"}, {"wn": 2875.5, "value": -0.132, "series": "PC2"}, {"wn": 2871, "value": -0.213, "series": "PC2"}, {"wn": 2867, "value": -0.105, "series": "PC2"}, {"wn": 2861.7, "value": 0.113, "series": "PC2"}, {"wn": 2856, "value": 0.242, "series": "PC2"}, {"wn": 2851, "value": 0.14, "series": "PC2"}, {"wn": 2845.2, "value": -0.139, "series": "PC2"}, {"wn": 2840.4, "value": -0.064, "series": "PC2"}, {"wn": 2835.1, "value": 0.031, "series": "PC2"}, {"wn": 2829.8, "value": -0.023, "series": "PC2"}, {"wn": 2818.6, "value": 0.034, "series": "PC2"}, {"wn": 2812.5, "value": -0.01, "series": "PC2"}, {"wn": 2807.2, "value": 0.011, "series": "PC2"}, {"wn": 2804.5, "value": -0.016, "series": "PC2"}, {"wn": 2800, "value": 0.065, "series": "PC2"}
    ],
    "hw_peaks": [
      {"wn": 2962, "value": -0.114, "series": "PC1", "label": "2962"}, {"wn": 2929, "value": -0.213, "series": "PC1", "label": "2929"}, {"wn": 2918, "value": 0.296, "series": "PC1", "label": "2918"}, {"wn": 2858, "value": -0.183, "series": "PC1", "label": "2858"}, {"wn": 2848, "value": 0.276, "series": "PC1", "label": "2848"},
      {"wn": 2958, "value": -0.217, "series": "PC2", "label": "2958"}, {"wn": 2924, "value": 0.122, "series": "PC2", "label": "2924"}, {"wn": 2871, "value": -0.213, "series": "PC2", "label": "2871"}, {"wn": 2856, "value": 0.242, "series": "PC2", "label": "2856"}
    ],
    "legend": [
      {"group": "Control"}, {"group": "HeBB"}, {"group": "HeMBRT"}
    ]
  },
  "vconcat": [
    {
      "title": {"text": "FP region (1467–950 cm⁻¹)", "offset": 14},
      "spacing": 38,
      "hconcat": [
        {
          "spacing": 5,
          "vconcat": [
            {"width": 255, "height": 1, "data": {"values": []}, "mark": {"type": "point", "opacity": 0}, "view": {"stroke": null}},
            {
              "width": 255, "height": 196,
              "data": {"name": "fp_scores"},
              "layer": [
                {
                  "mark": {"type": "circle", "size": 105, "opacity": 0.7},
                  "encoding": {
                    "x": {"field": "pc1", "type": "quantitative", "scale": {"domain": [-0.4, 0.3], "nice": false, "zero": false}, "axis": {"title": "PC1 (38%)", "values": [-0.4, -0.3, -0.2, -0.1, 0, 0.1, 0.2, 0.3], "format": ".1f"}},
                    "y": {"field": "pc2", "type": "quantitative", "scale": {"domain": [-0.218, 0.305], "nice": false, "zero": false}, "axis": {"title": "PC2 (14%)", "values": [-0.2, -0.1, 0, 0.1, 0.2, 0.3], "format": ".1f"}},
                    "color": {"field": "group", "type": "nominal", "scale": {"domain": ["Control", "HeBB", "HeMBRT"], "range": ["#2dabef", "#e4412a", "#a5e42a"]},
                      "legend": {"title": null, "orient": "bottom-right", "offset": 8, "fillColor": "rgba(255,255,255,0.65)", "strokeColor": "#e0e0e0", "padding": 5, "cornerRadius": 2, "labelFontSize": 12, "labelOffset": 8, "symbolSize": 105, "symbolOpacity": 0.7, "symbolStrokeWidth": 0, "rowPadding": 3,
                        "encode": {"labels": {"update": {"fill": {"signal": "datum.value == 'Control' ? '#3e8ef7' : datum.value == 'HeBB' ? '#e8213f' : '#3fc93f'"}}}}}}
                  }
                },
                {
                  "mark": {"type": "point", "opacity": 0},
                  "encoding": {
                    "x": {"field": "pc1", "type": "quantitative", "axis": {"orient": "top", "labels": false, "title": null, "values": [-0.4, -0.3, -0.2, -0.1, 0, 0.1, 0.2, 0.3]}},
                    "y": {"field": "pc2", "type": "quantitative", "axis": {"orient": "right", "labels": false, "title": null, "values": [-0.2, -0.1, 0, 0.1, 0.2, 0.3]}}
                  }
                }
              ],
              "resolve": {"axis": {"x": "independent", "y": "independent"}}
            }
          ],
          "resolve": {"scale": {"color": "independent"}, "legend": {"color": "independent"}}
        },
        {
          "width": 262, "height": 209,
          "layer": [
            {
              "data": {"name": "fp_load"},
              "mark": {"type": "line", "interpolate": "monotone", "strokeWidth": 1.8},
              "encoding": {
                "x": {"field": "wn", "type": "quantitative", "scale": {"domain": [950, 1473], "reverse": true, "nice": false, "zero": false}, "axis": {"title": "Wavenumber (cm⁻¹)", "values": [1450, 1300, 1150, 1000], "format": "d", "labelFontSize": 11.5, "titleFontSize": 14.5}},
                "y": {"field": "value", "type": "quantitative", "scale": {"domain": [-0.31, 0.34], "nice": false}, "axis": {"title": "Loadings", "values": [-0.3, -0.2, -0.1, 0, 0.1, 0.2, 0.3], "format": ".1f", "labelFontSize": 11.5, "titleFontSize": 15, "labelOverlap": false}},
                "stroke": {"field": "series", "type": "nominal", "scale": {"domain": ["PC1", "PC2"], "range": ["#18b2f5", "#ff2424"]},
                  "legend": {"title": null, "orient": "top-right", "offset": 3, "labelFontSize": 7.5, "symbolType": "stroke", "symbolStrokeWidth": 1.6, "symbolSize": 110, "fillColor": "white", "strokeColor": "#cccccc", "padding": 4, "rowPadding": 1, "labelOffset": 7}},
                "strokeDash": {"field": "series", "type": "nominal", "scale": {"domain": ["PC1", "PC2"], "range": [[1, 0], [5, 3]]},
                  "legend": {"title": null, "orient": "top-right", "offset": 3, "labelFontSize": 7.5, "symbolType": "stroke", "symbolStrokeWidth": 1.6, "symbolSize": 110, "fillColor": "white", "strokeColor": "#cccccc", "padding": 4, "rowPadding": 1, "labelOffset": 7}}
              }
            },
            {
              "data": {"name": "fp_load"},
              "mark": {"type": "point", "opacity": 0},
              "encoding": {
                "x": {"field": "wn", "type": "quantitative", "axis": {"orient": "top", "labels": false, "title": null, "values": [1450, 1300, 1150, 1000]}},
                "y": {"field": "value", "type": "quantitative", "axis": {"orient": "right", "labels": false, "title": null, "values": [-0.3, -0.2, -0.1, 0, 0.1, 0.2, 0.3]}}
              }
            },
            {
              "data": {"name": "fp_peaks"},
              "mark": {"type": "square", "size": 22, "opacity": 1},
              "encoding": {
                "x": {"field": "wn", "type": "quantitative", "axis": null},
                "y": {"field": "value", "type": "quantitative", "axis": null},
                "fill": {"field": "series", "type": "nominal", "scale": {"domain": ["PC1", "PC2"], "range": ["#1c1cff", "#8b1c1c"]}, "legend": null}
              }
            },
            {
              "data": {"name": "fp_peaks"},
              "transform": [{"filter": {"field": "label", "oneOf": ["1151", "1082", "974"]}}],
              "mark": {"type": "text", "dy": -10, "fontSize": 12},
              "encoding": {"x": {"field": "wn", "type": "quantitative", "axis": null}, "y": {"field": "value", "type": "quantitative", "axis": null}, "text": {"field": "label"}, "fill": {"field": "series", "type": "nominal", "legend": null}}
            },
            {
              "data": {"name": "fp_peaks"},
              "transform": [{"filter": {"field": "label", "oneOf": ["1244"]}}],
              "mark": {"type": "text", "dy": -10, "dx": -7, "fontSize": 12},
              "encoding": {"x": {"field": "wn", "type": "quantitative", "axis": null}, "y": {"field": "value", "type": "quantitative", "axis": null}, "text": {"field": "label"}, "fill": {"field": "series", "type": "nominal", "legend": null}}
            },
            {
              "data": {"name": "fp_peaks"},
              "transform": [{"filter": {"field": "label", "oneOf": ["1441", "1065"]}}],
              "mark": {"type": "text", "dy": 10, "fontSize": 12},
              "encoding": {"x": {"field": "wn", "type": "quantitative", "axis": null}, "y": {"field": "value", "type": "quantitative", "axis": null}, "text": {"field": "label"}, "fill": {"field": "series", "type": "nominal", "legend": null}}
            },
            {
              "data": {"name": "fp_peaks"},
              "transform": [{"filter": {"field": "label", "oneOf": ["1173"]}}],
              "mark": {"type": "text", "dy": 10, "dx": 7, "fontSize": 12},
              "encoding": {"x": {"field": "wn", "type": "quantitative", "axis": null}, "y": {"field": "value", "type": "quantitative", "axis": null}, "text": {"field": "label"}, "fill": {"field": "series", "type": "nominal", "legend": null}}
            },
            {
              "data": {"name": "fp_peaks"},
              "transform": [{"filter": {"field": "label", "oneOf": ["1205"]}}],
              "mark": {"type": "text", "dy": 9, "dx": -6, "fontSize": 12},
              "encoding": {"x": {"field": "wn", "type": "quantitative", "axis": null}, "y": {"field": "value", "type": "quantitative", "axis": null}, "text": {"field": "label"}, "fill": {"field": "series", "type": "nominal", "legend": null}}
            },
            {
              "data": {"name": "fp_peaks"},
              "transform": [{"filter": {"field": "label", "oneOf": ["1026"]}}],
              "mark": {"type": "text", "dx": 5, "align": "left", "fontSize": 12},
              "encoding": {"x": {"field": "wn", "type": "quantitative", "axis": null}, "y": {"field": "value", "type": "quantitative", "axis": null}, "text": {"field": "label"}, "fill": {"field": "series", "type": "nominal", "legend": null}}
            }
          ],
          "resolve": {"axis": {"x": "independent", "y": "independent"}}
        }
      ],
      "resolve": {"scale": {"color": "independent", "stroke": "independent", "strokeDash": "independent", "fill": "independent"}, "legend": {"color": "independent", "stroke": "independent", "strokeDash": "independent", "fill": "independent"}}
    },
    {
      "title": {"text": "HW region (3000–2800 cm⁻¹)", "offset": 12},
      "spacing": 38,
      "hconcat": [
        {
          "spacing": 0,
          "vconcat": [
            {"width": 248, "height": 1, "data": {"values": []}, "mark": {"type": "point", "opacity": 0}, "view": {"stroke": null}},
            {
              "width": 248, "height": 193,
              "data": {"name": "hw_scores"},
              "layer": [
                {
                  "mark": {"type": "circle", "size": 105, "opacity": 0.7},
                  "encoding": {
                    "x": {"field": "pc1", "type": "quantitative", "scale": {"domain": [-0.3, 0.2], "nice": false, "zero": false}, "axis": {"title": "PC1 (41%)", "values": [-0.3, -0.2, -0.1, 0, 0.1, 0.2], "format": ".1f"}},
                    "y": {"field": "pc2", "type": "quantitative", "scale": {"domain": [-0.15, 0.15], "nice": false, "zero": false}, "axis": {"title": "PC2 (12%)", "values": [-0.15, -0.1, -0.05, 0, 0.05, 0.1, 0.15], "format": ".2f"}},
                    "color": {"field": "group", "type": "nominal", "scale": {"domain": ["Control", "HeBB", "HeMBRT"], "range": ["#2dabef", "#e4412a", "#a5e42a"]},
                      "legend": {"title": null, "orient": "bottom-right", "offset": 5, "fillColor": "rgba(255,255,255,0.65)", "strokeColor": "#e0e0e0", "padding": 5, "cornerRadius": 2, "labelFontSize": 12, "labelOffset": 8, "symbolSize": 105, "symbolOpacity": 0.7, "symbolStrokeWidth": 0, "rowPadding": 3,
                        "encode": {"labels": {"update": {"fill": {"signal": "datum.value == 'Control' ? '#3e8ef7' : datum.value == 'HeBB' ? '#e8213f' : '#3fc93f'"}}}}}}
                  }
                },
                {
                  "mark": {"type": "point", "opacity": 0},
                  "encoding": {
                    "x": {"field": "pc1", "type": "quantitative", "axis": {"orient": "top", "labels": false, "title": null, "values": [-0.3, -0.2, -0.1, 0, 0.1, 0.2]}},
                    "y": {"field": "pc2", "type": "quantitative", "axis": {"orient": "right", "labels": false, "title": null, "values": [-0.15, -0.1, -0.05, 0, 0.05, 0.1, 0.15]}}
                  }
                }
              ],
              "resolve": {"axis": {"x": "independent", "y": "independent"}}
            }
          ],
          "resolve": {"scale": {"color": "independent"}, "legend": {"color": "independent"}}
        },
        {
          "width": 250, "height": 196,
          "layer": [
            {
              "data": {"name": "hw_load"},
              "mark": {"type": "line", "interpolate": "monotone", "strokeWidth": 1.8},
              "encoding": {
                "x": {"field": "wn", "type": "quantitative", "scale": {"domain": [2800, 3000], "reverse": true, "nice": false, "zero": false}, "axis": {"title": "Wavenumber (cm⁻¹)", "values": [3000, 2950, 2900, 2850, 2800], "format": "d", "labelFontSize": 11.5, "titleFontSize": 14.5}},
                "y": {"field": "value", "type": "quantitative", "scale": {"domain": [-0.4, 0.4], "nice": false}, "axis": {"title": "Loadings", "values": [-0.4, -0.2, 0, 0.2, 0.4], "format": ".1f", "labelFontSize": 11.5, "titleFontSize": 15, "labelOverlap": false}},
                "stroke": {"field": "series", "type": "nominal", "scale": {"domain": ["PC1", "PC2"], "range": ["#18b2f5", "#ff2424"]},
                  "legend": {"title": null, "orient": "top-right", "offset": 3, "labelFontSize": 7.5, "symbolType": "stroke", "symbolStrokeWidth": 1.6, "symbolSize": 110, "fillColor": "white", "strokeColor": "#cccccc", "padding": 4, "rowPadding": 1, "labelOffset": 7}},
                "strokeDash": {"field": "series", "type": "nominal", "scale": {"domain": ["PC1", "PC2"], "range": [[1, 0], [5, 3]]},
                  "legend": {"title": null, "orient": "top-right", "offset": 3, "labelFontSize": 7.5, "symbolType": "stroke", "symbolStrokeWidth": 1.6, "symbolSize": 110, "fillColor": "white", "strokeColor": "#cccccc", "padding": 4, "rowPadding": 1, "labelOffset": 7}}
              }
            },
            {
              "data": {"name": "hw_load"},
              "mark": {"type": "point", "opacity": 0},
              "encoding": {
                "x": {"field": "wn", "type": "quantitative", "axis": {"orient": "top", "labels": false, "title": null, "values": [3000, 2950, 2900, 2850, 2800]}},
                "y": {"field": "value", "type": "quantitative", "axis": {"orient": "right", "labels": false, "title": null, "values": [-0.4, -0.2, 0, 0.2, 0.4]}}
              }
            },
            {
              "data": {"name": "hw_peaks"},
              "mark": {"type": "square", "size": 22, "opacity": 1},
              "encoding": {
                "x": {"field": "wn", "type": "quantitative", "axis": null},
                "y": {"field": "value", "type": "quantitative", "axis": null},
                "fill": {"field": "series", "type": "nominal", "scale": {"domain": ["PC1", "PC2"], "range": ["#1c1cff", "#8b1c1c"]}, "legend": null}
              }
            },
            {
              "data": {"name": "hw_peaks"},
              "transform": [{"filter": {"field": "label", "oneOf": ["2918", "2848"]}}],
              "mark": {"type": "text", "dy": -10, "fontSize": 12},
              "encoding": {"x": {"field": "wn", "type": "quantitative", "axis": null}, "y": {"field": "value", "type": "quantitative", "axis": null}, "text": {"field": "label"}, "fill": {"field": "series", "type": "nominal", "legend": null}}
            },
            {
              "data": {"name": "hw_peaks"},
              "transform": [{"filter": {"field": "label", "oneOf": ["2929", "2958", "2871"]}}],
              "mark": {"type": "text", "dy": 10, "fontSize": 12},
              "encoding": {"x": {"field": "wn", "type": "quantitative", "axis": null}, "y": {"field": "value", "type": "quantitative", "axis": null}, "text": {"field": "label"}, "fill": {"field": "series", "type": "nominal", "legend": null}}
            },
            {
              "data": {"name": "hw_peaks"},
              "transform": [{"filter": {"field": "label", "oneOf": ["2962", "2856"]}}],
              "mark": {"type": "text", "dx": -4, "align": "right", "fontSize": 12},
              "encoding": {"x": {"field": "wn", "type": "quantitative", "axis": null}, "y": {"field": "value", "type": "quantitative", "axis": null}, "text": {"field": "label"}, "fill": {"field": "series", "type": "nominal", "legend": null}}
            },
            {
              "data": {"name": "hw_peaks"},
              "transform": [{"filter": {"field": "label", "oneOf": ["2858"]}}],
              "mark": {"type": "text", "dx": 4, "align": "left", "fontSize": 12},
              "encoding": {"x": {"field": "wn", "type": "quantitative", "axis": null}, "y": {"field": "value", "type": "quantitative", "axis": null}, "text": {"field": "label"}, "fill": {"field": "series", "type": "nominal", "legend": null}}
            },
            {
              "data": {"name": "hw_peaks"},
              "transform": [{"filter": {"field": "label", "oneOf": ["2924"]}}],
              "mark": {"type": "text", "dx": 2, "dy": -7, "align": "right", "fontSize": 12},
              "encoding": {"x": {"field": "wn", "type": "quantitative", "axis": null}, "y": {"field": "value", "type": "quantitative", "axis": null}, "text": {"field": "label"}, "fill": {"field": "series", "type": "nominal", "legend": null}}
            }
          ],
          "resolve": {"axis": {"x": "independent", "y": "independent"}}
        }
      ],
      "resolve": {"scale": {"color": "independent", "stroke": "independent", "strokeDash": "independent", "fill": "independent"}, "legend": {"color": "independent", "stroke": "independent", "strokeDash": "independent", "fill": "independent"}}
    },
    {
      "spacing": 0,
      "hconcat": [
        {
          "spacing": 1,
          "vconcat": [
            {"width": 355, "height": 1, "data": {"values": []}, "mark": {"type": "point", "opacity": 0}, "view": {"stroke": null}},
            {
              "width": 355, "height": 32,
              "data": {"name": "legend"},
              "view": {"stroke": "#d8d8d8", "strokeWidth": 2, "cornerRadius": 3},
              "mark": {"type": "circle", "opacity": 0},
              "encoding": {
                "fill": {"field": "group", "type": "nominal", "scale": {"domain": ["Control", "HeBB", "HeMBRT"], "range": ["#8fd5fb", "#f29282", "#d2f07e"]},
                  "legend": {"title": null, "orient": "top-left", "direction": "horizontal", "offset": 9, "padding": 0, "symbolSize": 400, "symbolOpacity": 1, "symbolStrokeWidth": 1.5, "labelFontSize": 19, "labelOffset": 16, "columnPadding": 39, "labelLimit": 200,
                    "labelExpr": "datum.label == 'HeBB' ? 'BB' : datum.label == 'HeMBRT' ? 'MBRT' : datum.label",
                    "encode": {"labels": {"update": {"fill": {"signal": "datum.value == 'Control' ? '#2d8cf5' : datum.value == 'HeBB' ? '#e0203c' : '#38c938'"}}}}}},
                "stroke": {"field": "group", "type": "nominal", "scale": {"domain": ["Control", "HeBB", "HeMBRT"], "range": ["#6bbbe6", "#d86c5c", "#b2d862"]},
                  "legend": {"title": null, "orient": "top-left", "direction": "horizontal", "offset": 9, "padding": 0, "symbolSize": 400, "symbolOpacity": 1, "symbolStrokeWidth": 1.5, "labelFontSize": 19, "labelOffset": 16, "columnPadding": 39, "labelLimit": 200,
                    "labelExpr": "datum.label == 'HeBB' ? 'BB' : datum.label == 'HeMBRT' ? 'MBRT' : datum.label",
                    "encode": {"labels": {"update": {"fill": {"signal": "datum.value == 'Control' ? '#2d8cf5' : datum.value == 'HeBB' ? '#e0203c' : '#38c938'"}}}}}}
              }
            }
          ],
          "resolve": {"scale": {"fill": "independent", "stroke": "independent"}, "legend": {"fill": "independent", "stroke": "independent"}}
        },
        {"width": 54, "height": 1, "data": {"values": []}, "mark": {"type": "point", "opacity": 0}, "view": {"stroke": null}}
      ],
      "resolve": {"scale": {"fill": "independent", "stroke": "independent"}, "legend": {"fill": "independent", "stroke": "independent"}}
    }
  ],
  "spacing": 32,
  "center": true,
  "resolve": {"scale": {"color": "independent", "stroke": "independent", "strokeDash": "independent", "fill": "independent"}, "legend": {"color": "independent", "stroke": "independent", "strokeDash": "independent", "fill": "independent"}}
}
